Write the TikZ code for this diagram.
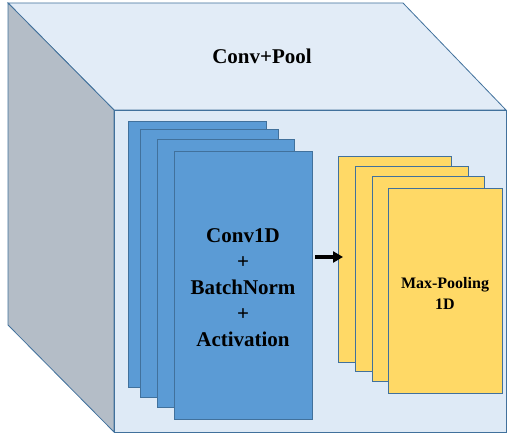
\documentclass[tikz,border=0pt]{standalone}
\usepackage{fontspec}
\setmainfont{Liberation Serif}
\usetikzlibrary{arrows.meta}
\definecolor{edgeblue}{HTML}{41719C}
\definecolor{topface}{HTML}{E2ECF7}
\definecolor{frontface}{HTML}{DEEAF6}
\definecolor{sideface}{HTML}{B4BDC7}
\definecolor{convblue}{HTML}{5B9BD5}
\definecolor{poolyellow}{HTML}{FFD966}
\newcommand*{\MapLayers}[2]{% #1 = style, #2 = list of name/x1/y1/x2/y2
  \foreach \name/\xa/\ya/\xb/\yb in {#2} {
    \node (\name) [#1, minimum width={(\xb-\xa)*1pt}, minimum height={(\yb-\ya)*1pt}]
      at ({(\xa+\xb)/2},{(\ya+\yb)/2}) {};
    }%
}
\tikzset{
  face/.style={draw=edgeblue, line width=0.8pt, line join=miter},
  fmap/.style={draw=edgeblue, line width=0.8pt, fill=convblue, inner sep=0pt, outer sep=0pt},
  pmap/.style={draw=edgeblue, line width=0.8pt, fill=poolyellow, inner sep=0pt, outer sep=0pt},
}

\begin{document}
\begin{tikzpicture}[x=1pt, y=-1pt]
  \useasboundingbox (0,0) rectangle (507,435);
  % cube
  \filldraw [face, fill=topface] (8,3) -- (403,3) -- (506,110) -- (114,110) -- cycle;
  \filldraw [face, fill=sideface] (8,3) -- (114,110) -- (114,432) -- (8,325) -- cycle;
  \filldraw [face, fill=frontface] (114,110) rectangle (506,432);
  \node (title) [font=\bfseries\fontsize{21}{26}\selectfont] at (262,56) {Conv+Pool};
  % conv feature maps
  \MapLayers{fmap}{c1/128/121/266/387, c2/140/129/278/397, c3/157/139/294/407, c4/174/151/312/419}
  \node (convtext) [align=center, font=\bfseries\fontsize{21}{26}\selectfont]
    at (243,288) {Conv1D\\+\\BatchNorm\\+\\Activation};
  % pooled maps
  \MapLayers{pmap}{p1/338/156/451/362, p2/355/166/468/371, p3/372/176/484/381, p4/388/188/502/393}
  \node (pooltext) [align=center, font=\bfseries\fontsize{16}{21}\selectfont]
    at (445,293) {Max-Pooling\\1D};
  \draw [-{Triangle[length=10pt, width=11pt]}, line width=3.5pt, shorten <=3pt, shorten >=-5pt]
    (c4.east |- 0,257) -- (p1.west |- 0,257);
\end{tikzpicture}
\end{document}
